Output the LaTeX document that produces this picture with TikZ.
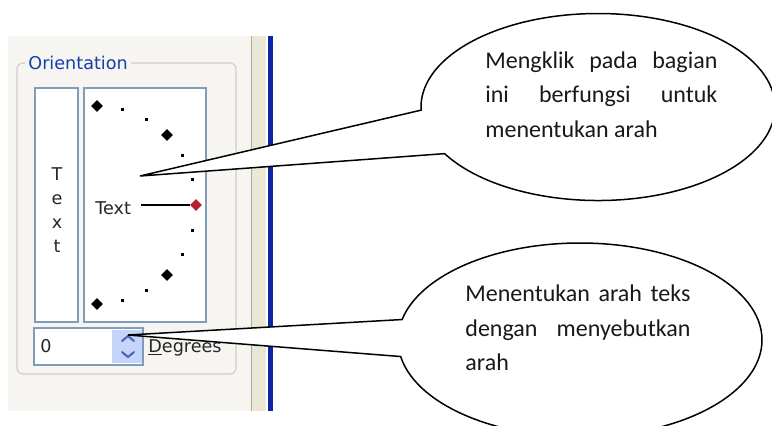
\documentclass[tikz,border=0pt]{standalone}
\usepackage{fontspec}
\setmainfont{Carlito}
\newfontfamily\uifont{DejaVu Sans}
\usetikzlibrary{shapes.callouts,shapes.geometric,positioning}
\definecolor{dlgbg}{RGB}{246,245,241}
\definecolor{stripbg}{RGB}{234,231,214}
\definecolor{stripline}{RGB}{176,172,158}
\definecolor{barblue}{RGB}{12,38,165}
\definecolor{grpline}{RGB}{208,208,196}
\definecolor{grpblue}{RGB}{22,62,170}
\definecolor{boxline}{RGB}{127,157,185}
\definecolor{spinblue}{RGB}{196,212,250}
\definecolor{spinarrow}{RGB}{70,100,170}
\definecolor{dialred}{RGB}{178,32,48}
\hyphenpenalty=10000

\begin{document}
\begin{tikzpicture}[x=0.5pt,y=-0.5pt,
    uitext/.style={font=\uifont\fontsize{8.8}{10}\selectfont,text=black!85,inner sep=0pt},
    panelbox/.style={draw=boxline,fill=white,line width=0.6pt},
    bigdot/.style={diamond,fill=black,inner sep=0pt,minimum size=6pt},
    smalldot/.style={rectangle,fill=black,inner sep=0pt,minimum size=1.6pt},
    bubble/.style={ellipse callout,draw=black,fill=white,line width=0.75pt,inner sep=0pt},
    bubbletext/.style={font=\fontsize{12}{17.3}\selectfont,align=justify,inner sep=0pt,anchor=base west,text=black!90}]
    \useasboundingbox (0,0) rectangle (772,425);
    \clip (0,0) rectangle (772,425);
    \fill[white] (0,0) rectangle (772,425);
    \fill[dlgbg] (8,36) rectangle (251,411);
    \fill[stripbg] (251,36) rectangle (266,411);
    \draw[stripline,line width=0.5pt] (251,36) -- (251,411);
    \fill[barblue] (268,36) rectangle (273,411);

    \draw[grpline,line width=0.6pt,rounded corners=3pt] (25,63) -- (17,63) -- (17,374) -- (236,374) -- (236,63) -- (131,63);
    \node[uitext,text=grpblue,anchor=west] (orient) at (28,63) {Orientation};

    \draw[panelbox] (35,88) rectangle (78,322);
    \draw[panelbox] (84,88) rectangle (206,322);
    \foreach \ch [count=\i] in {T,e,x,t}
        \node[uitext,anchor=base] (vert\i) at (57,156+24*\i) {\ch};

    \coordinate (dialc) at (97,205);
    \foreach \a in {15,30,60,75,-15,-30,-60,-75}
        \node[smalldot] (tick\a) at ([shift={(\a:99)}]dialc) {};
    \foreach \a in {45,90,-45,-90}
        \node[bigdot] (mark\a) at ([shift={(\a:99)}]dialc) {};
    \node[bigdot,fill=dialred] (mark0) at ([shift={(0:99)}]dialc) {};
    \node[uitext,anchor=base west] (dialtext) at (95,214) {Text};
    \draw[line width=0.6pt] (mark0) -- ([xshift=5pt]dialtext.east |- mark0);
    \coordinate (dialtip) at (140,176);

    \draw[panelbox] (34,328) rectangle (143,365);
    \fill[spinblue] (112,330) rectangle (142,363);
    \draw[spinarrow,line width=1pt,line cap=round,line join=round] (122,341) -- (128,336) -- (134,341);
    \draw[spinarrow,line width=1pt,line cap=round,line join=round] (122,352) -- (128,357) -- (134,352);
    \node[uitext,anchor=base west] (spinval) at (40,352) {0};
    \node[uitext,anchor=base west] (deglabel) at (148,352) {\underline{D}egrees};
    \coordinate (spintip) at (128,335);

    \node[bubble,minimum width=177pt,minimum height=93.5pt,callout absolute pointer={(dialtip)},callout pointer arc=28] (dialnote) at (598,107) {};
    \node[bubble,minimum width=182pt,minimum height=97pt,callout absolute pointer={(spintip)},callout pointer arc=22] (spinnote) at (580,340) {};
    \node[bubbletext,text width=116pt] (dialnotetext) at (485,68) {Mengklik pada bagian ini berfungsi untuk menentukan arah};
    \node[bubbletext,text width=112.5pt] (spinnotetext) at (465,301.7) {Menentukan arah teks dengan menyebutkan arah};
\end{tikzpicture}
\end{document}
